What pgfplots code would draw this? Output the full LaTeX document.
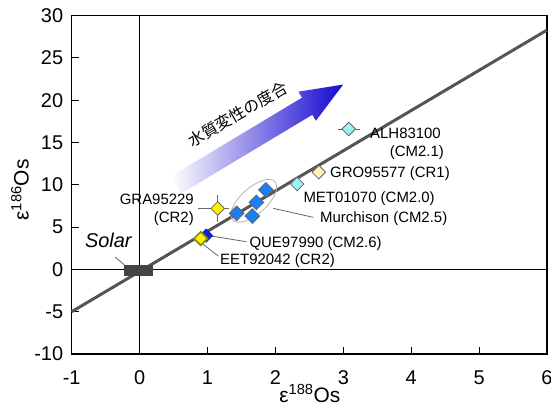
\documentclass[border=0pt]{standalone}
\usepackage{pgfplots}
\pgfplotsset{compat=1.18}
\usepackage{fontspec}
\setmainfont{Liberation Sans}
\newfontfamily\cjk{Noto Sans CJK JP}
\definecolor{linegray}{HTML}{555555}
\definecolor{solargray}{HTML}{444444}
\definecolor{cyanfill}{HTML}{9AF2F2}
\definecolor{paleyellow}{HTML}{FFF2B8}
\definecolor{murblue}{HTML}{1A7EF5}
\definecolor{queblue}{HTML}{1020E0}
\definecolor{olivebord}{HTML}{8C8C00}
\definecolor{markbord}{HTML}{666666}
\definecolor{arrowmid}{HTML}{5A9CF5}
\definecolor{arrowtip}{HTML}{1408D0}
\begin{document}
\begin{tikzpicture}
\begin{axis}[
  scale only axis, width=475.3bp, height=338.3bp,
  xmin=-1, xmax=6, ymin=-10, ymax=30,
  xtick={-1,0,...,6}, ytick={-10,-5,...,30},
  tick pos=left, tick align=inside, major tick length=7bp,
  axis line style={line width=1.3bp, black},
  tick style={line width=1bp, black},
  clip=false,
  /pgf/number format/assume math mode=true,
  ticklabel style={font=\fontsize{20}{24}\selectfont},
  xticklabel style={anchor=base, yshift=-31bp},
  yticklabel style={anchor=east, inner sep=0pt, xshift=-8.4bp},
  xlabel={ε\textsuperscript{188}Os},
  ylabel={ε\textsuperscript{186}Os},
  label style={font=\fontsize{21}{25}\selectfont},
  xlabel style={at={(axis description cs:0.501,-0.142)}, anchor=base},
  ylabel style={at={(axis description cs:-0.1088,0.485)}, anchor=center},
]
% zero lines
\addplot[black, line width=0.8bp] coordinates {(0,-10) (0,30)};
\addplot[black, line width=0.8bp] coordinates {(-1,0) (6,0)};

\coordinate (arrtail) at (axis cs:0.536,9.98);
\coordinate (arrtext) at (axis cs:1.442,18.37);

% main line
\addplot[linegray, line width=3bp] coordinates {(-1,-5) (6,28.3)};

% Solar box
\fill[solargray] (axis cs:-0.23,-0.72) rectangle (axis cs:0.2,0.48);
\draw[markbord, line width=0.8bp] (axis cs:-0.361,1.47) -- (axis cs:-0.215,0.48);
\node[font=\itshape\fontsize{20}{24}\selectfont] at (axis cs:-0.46,3.48) {Solar};

% Murchison ellipse
\draw[gray!60, line width=0.8bp] (axis cs:1.682,8.11) [rotate around={42:(axis cs:1.682,8.11)}] ellipse (28.5bp and 13bp);

% leader lines
\draw[markbord, line width=0.8bp] (axis cs:1.969,7.22) -- (axis cs:2.558,6.16);
\draw[markbord, line width=0.8bp] (axis cs:0.865,7.2) -- (axis cs:1.0,7.2);
\draw[markbord, line width=0.8bp] (axis cs:1.037,3.97) -- (axis cs:1.577,3.27);
\draw[markbord, line width=0.8bp] (axis cs:0.889,3.27) -- (axis cs:1.159,1.58);

% error bars
\addplot[markbord, line width=0.8bp, no marks,
  error bars/.cd, x dir=both, x explicit, y dir=both, y explicit,
  error mark=none, error bar style={markbord, line width=0.8bp}]
  coordinates {(1.15,7.2) +- (0.17,1.6)};
\addplot[markbord, line width=0.8bp, no marks,
  error bars/.cd, x dir=both, x explicit,
  error mark=none, error bar style={markbord, line width=0.8bp}]
  coordinates {(3.08,16.6) +- (0.16,0)};

% markers
\addplot[only marks, mark=square*, mark size=4.8bp,
  mark options={rotate=45, fill=cyanfill, draw=markbord, line width=0.8bp}]
  coordinates {(3.08,16.6) (2.32,10.1)};
\addplot[only marks, mark=square*, mark size=4.8bp,
  mark options={rotate=45, fill=paleyellow, draw=markbord, line width=0.8bp}]
  coordinates {(2.64,11.5)};
\addplot[only marks, mark=square*, mark size=5.2bp,
  mark options={rotate=45, fill=murblue, draw=markbord, line width=0.8bp}]
  coordinates {(1.86,9.4) (1.72,7.93) (1.43,6.63) (1.66,6.31)};
\addplot[only marks, mark=square*, mark size=4.8bp,
  mark options={rotate=45, fill=yellow, draw=markbord, line width=0.8bp}]
  coordinates {(1.15,7.2)};
\addplot[only marks, mark=square*, mark size=4.6bp,
  mark options={rotate=45, fill=queblue, draw=queblue, line width=0.8bp}]
  coordinates {(0.98,4.0)};
\addplot[only marks, mark=square*, mark size=4.8bp,
  mark options={rotate=45, fill=yellow, draw=olivebord, line width=1.6bp}]
  coordinates {(0.90,3.65)};

% labels
\begin{scope}[every node/.style={font=\fontsize{15}{18}\selectfont, inner sep=0pt}]
\node[anchor=base west] at (axis cs:3.393,15.48) {ALH83100};
\node[anchor=base east] at (axis cs:4.483,13.36) {(CM2.1)};
\node[anchor=base west] at (axis cs:2.804,10.87) {GRO95577 (CR1)};
\node[anchor=base west] at (axis cs:2.411,7.955) {MET01070 (CM2.0)};
\node[anchor=base west] at (axis cs:2.657,5.52) {Murchison (CM2.5)};
\node[anchor=base east] at (axis cs:0.801,7.65) {GRA95229};
\node[anchor=base east] at (axis cs:0.801,5.52) {(CR2)};
\node[anchor=base west] at (axis cs:1.616,2.64) {QUE97990 (CM2.6)};
\node[anchor=base west] at (axis cs:1.184,0.556) {EET92042 (CR2)};
\end{scope}
\end{axis}
% gradient arrow
\begin{scope}[shift={(arrtail)}, rotate=31]
  \shade[left color=white, middle color=arrowmid, right color=arrowtip]
    (0,-10bp) -- (153bp,-10bp) -- (153bp,-17bp) -- (195bp,0) -- (153bp,17bp) -- (153bp,10bp) -- (0,10bp) -- cycle;
\end{scope}
\node[rotate=30, font=\cjk\fontsize{16}{19}\selectfont] at (arrtext) {水質変性の度合};
\pgfresetboundingbox
\path[use as bounding box] ([shift={(-71.7bp,-52bp)}]current axis.south west) rectangle ([shift={(4bp,15.7bp)}]current axis.north east);
\end{tikzpicture}
\end{document}
